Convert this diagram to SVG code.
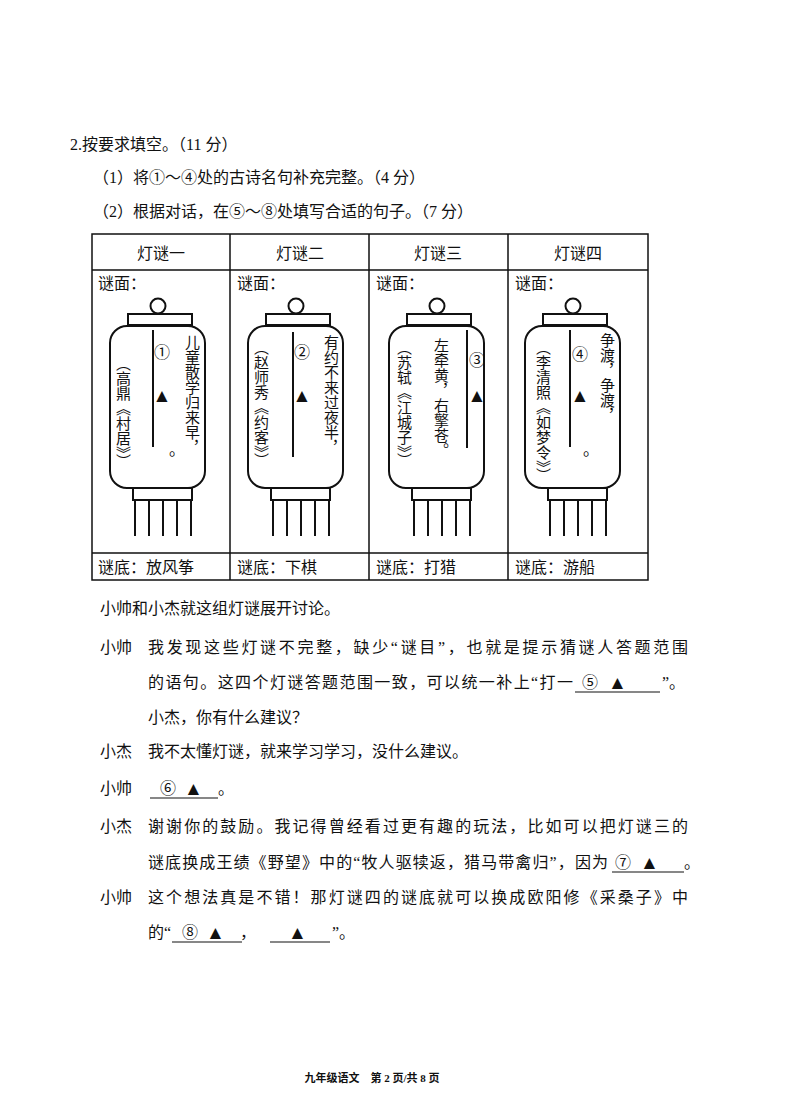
<svg xmlns="http://www.w3.org/2000/svg" width="794" height="1119" viewBox="0 0 794 1119">
<defs>
<style>
text{font-family:"Liberation Serif","Noto Sans CJK SC",serif;font-size:16px;fill:#111}
text.v{writing-mode:vertical-rl;font-size:15px}
text.t{font-size:19px}
text.f{font-size:11px;font-weight:bold}
.ln{fill:none;stroke:#111;stroke-width:2}
.th{stroke:#111;stroke-width:1.5;fill:none}
.ul{stroke:#111;stroke-width:1.2}
</style>
<g id="lantern">
<circle cx="0" cy="-2" r="7.5" class="ln"/>
<rect x="-30" y="6" width="64" height="11" class="ln" fill="#fff"/>
<rect x="-48" y="18" width="95" height="162" rx="17" class="ln"/>
<rect x="-25" y="180" width="59" height="12" class="ln" fill="#fff"/>
<path d="M-23 192V228M-9 192V228M5 192V228M19 192V228M33 192V228" class="ln"/>
</g>
</defs>
<rect width="794" height="1119" fill="#fff"/>
<text x="70" y="150">2.按要求填空。（11 分）</text>
<text x="93" y="183">（1）将①～④处的古诗名句补充完整。（4 分）</text>
<text x="93" y="217">（2）根据对话，在⑤～⑧处填写合适的句子。（7 分）</text>
<g id="table">
<rect x="92" y="234" width="556" height="346" class="th"/>
<path d="M92 270H648M92 553H648M230 234V580M369 234V580M508 234V580" class="th"/>
<text x="161" y="259" text-anchor="middle">灯谜一</text>
<text x="300" y="259" text-anchor="middle">灯谜二</text>
<text x="438" y="259" text-anchor="middle">灯谜三</text>
<text x="578" y="259" text-anchor="middle">灯谜四</text>
<text x="98" y="289">谜面：</text><text x="237" y="289">谜面：</text><text x="376" y="289">谜面：</text><text x="515" y="289">谜面：</text>
<text x="98" y="573">谜底：放风筝</text><text x="237" y="573">谜底：下棋</text><text x="376" y="573">谜底：打猎</text><text x="515" y="573">谜底：游船</text>
</g>
<g id="l1">
<use href="#lantern" x="158" y="308"/>
<line x1="153" y1="330" x2="153" y2="447" class="ln"/>
<text x="162" y="358" text-anchor="middle">①</text>
<text x="162" y="402" text-anchor="middle" class="t">▲</text>
<text x="169" y="455">。</text>
<text class="v" x="191" y="335">儿童散学归来早，</text>
<text class="v" x="122" y="356">（高鼎《村居》）</text>
</g>
<g id="l2">
<use href="#lantern" x="296" y="308"/>
<line x1="293" y1="332" x2="293" y2="457" class="ln"/>
<text x="302" y="358" text-anchor="middle">②</text>
<text x="302" y="402" text-anchor="middle" class="t">▲</text>
<text class="v" x="330" y="335">有约不来过夜半，</text>
<text class="v" x="260" y="340">（赵师秀《约客》）</text>
</g>
<g id="l3">
<use href="#lantern" x="437" y="308"/>
<line x1="467" y1="330" x2="467" y2="448" class="ln"/>
<text x="477" y="366" text-anchor="middle">③</text>
<text x="477" y="402" text-anchor="middle" class="t">▲</text>
<text class="v" x="440" y="338">左牵黄，右擎苍。</text>
<text class="v" x="403" y="340">（苏轼《江城子》）</text>
</g>
<g id="l4">
<use href="#lantern" x="573" y="308"/>
<line x1="570" y1="330" x2="570" y2="447" class="ln"/>
<text x="580" y="360" text-anchor="middle">④</text>
<text x="580" y="402" text-anchor="middle" class="t">▲</text>
<text x="583" y="455">。</text>
<text class="v" x="606" y="333">争渡，争渡，</text>
<text class="v" x="542" y="340">（李清照《如梦令》）</text>
</g>
<g id="dialog">
<text x="100" y="614">小帅和小杰就这组灯谜展开讨论。</text>
<text x="100" y="653">小帅</text>
<text x="148" y="653" textLength="540">我发现这些灯谜不完整，缺少“谜目”，也就是提示猜谜人答题范围</text>
<text x="148" y="688" textLength="425">的语句。这四个灯谜答题范围一致，可以统一补上“打一</text>
<text x="582" y="688">⑤</text><text x="608" y="689" class="t">▲</text><text x="662" y="688">”。</text>
<line x1="575" y1="692" x2="660" y2="692" class="ul"/>
<text x="148" y="723">小杰，你有什么建议？</text>
<text x="100" y="757">小杰</text>
<text x="148" y="757">我不太懂灯谜，就来学习学习，没什么建议。</text>
<text x="100" y="794">小帅</text>
<text x="160" y="794">⑥</text><text x="184" y="795" class="t">▲</text><text x="218" y="794">。</text>
<line x1="150" y1="798" x2="218" y2="798" class="ul"/>
<text x="100" y="832">小杰</text>
<text x="148" y="832" textLength="540">谢谢你的鼓励。我记得曾经看过更有趣的玩法，比如可以把灯谜三的</text>
<text x="148" y="868" textLength="460">谜底换成王绩《野望》中的“牧人驱犊返，猎马带禽归”，因为</text>
<text x="615" y="868">⑦</text><text x="640" y="869" class="t">▲</text><text x="684" y="868">。</text>
<line x1="612" y1="872" x2="684" y2="872" class="ul"/>
<text x="100" y="903">小帅</text>
<text x="148" y="903" textLength="540">这个想法真是不错！那灯谜四的谜底就可以换成欧阳修《采桑子》中</text>
<text x="148" y="938">的“</text><text x="182" y="938">⑧</text><text x="206" y="939" class="t">▲</text><text x="240" y="938">，</text>
<text x="288" y="939" class="t">▲</text><text x="332" y="938">”。</text>
<line x1="172" y1="942" x2="242" y2="942" class="ul"/>
<line x1="270" y1="942" x2="330" y2="942" class="ul"/>
</g>
<text x="372" y="1082" class="f" text-anchor="middle">九年级语文　第 2 页/共 8 页</text>
</svg>
